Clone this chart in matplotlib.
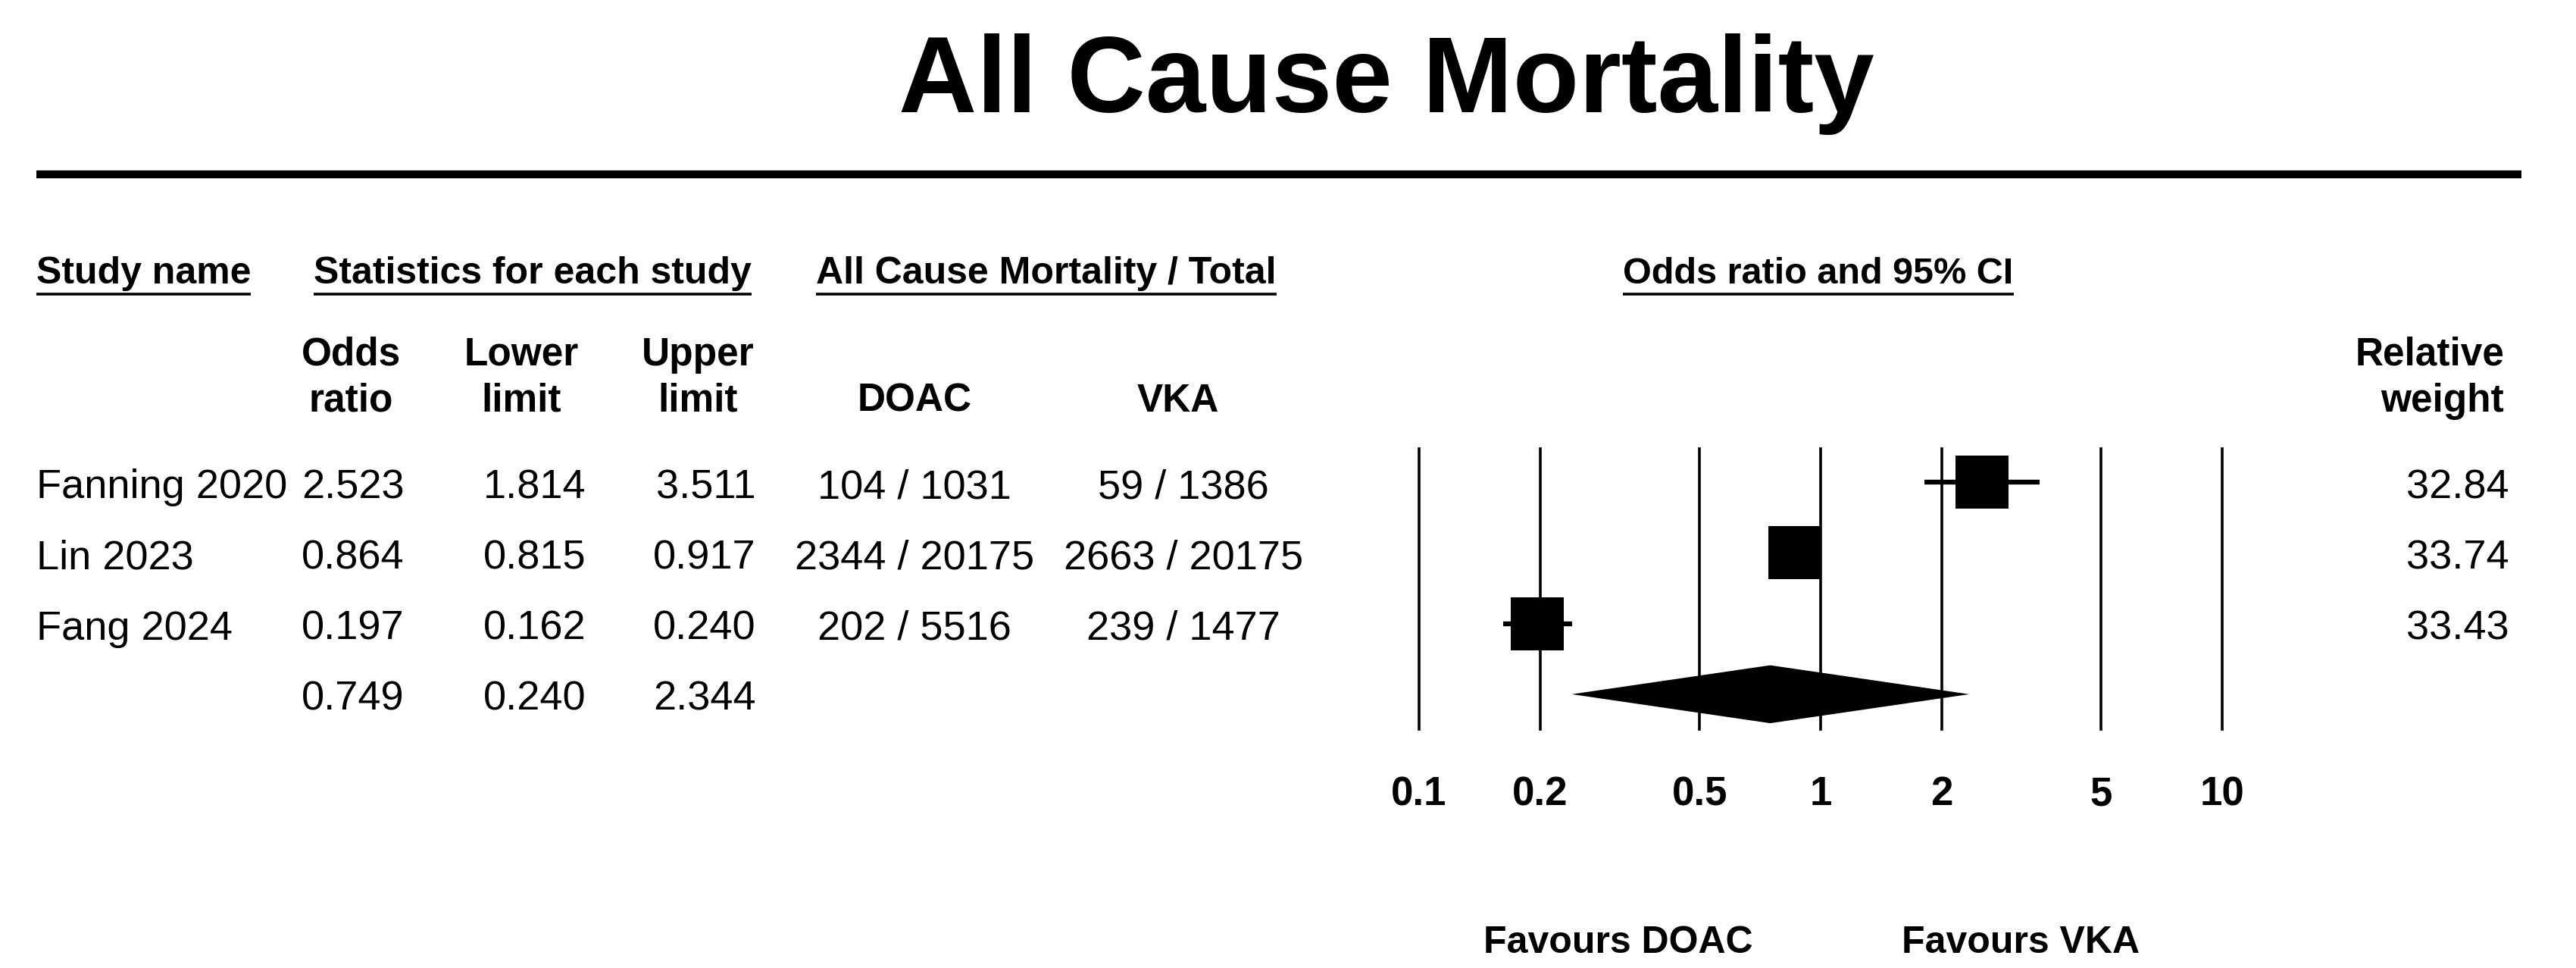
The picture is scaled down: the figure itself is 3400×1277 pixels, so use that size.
"""
Forest plot: All Cause Mortality, DOAC vs VKA (odds ratio, random effects).
Rebuilt with matplotlib as a single static figure -> out.png
"""

import matplotlib
matplotlib.use("Agg")  # headless
import matplotlib.pyplot as plt
import matplotlib.transforms as mtransforms
from matplotlib.lines import Line2D
from matplotlib.ticker import NullLocator

W, H = 3400, 1277
DPI = 100

# ---- data ----
studies = ["Fanning 2020", "Lin 2023", "Fang 2024"]
odds_ratio = [2.523, 0.864, 0.197]
lower_limit = [1.814, 0.815, 0.162]
upper_limit = [3.511, 0.917, 0.240]
doac_events = [104, 2344, 202]
doac_total = [1031, 20175, 5516]
vka_events = [59, 2663, 239]
vka_total = [1386, 20175, 1477]
rel_weight = [32.84, 33.74, 33.43]

pooled_or = 0.749
pooled_lower = 0.240
pooled_upper = 2.344

x_ticks = [0.1, 0.2, 0.5, 1, 2, 5, 10]
x_tick_labels = ["0.1", "0.2", "0.5", "1", "2", "5", "10"]

plt.rcParams["font.family"] = ["Liberation Sans", "DejaVu Sans"]


def fx(x):
    """pixel x (from left) -> figure fraction"""
    return x / W


def fy(y):
    """pixel y (from top) -> figure fraction"""
    return 1 - y / H


def put(fig, x, y, s, **kw):
    return fig.text(fx(x), fy(y), s, va="baseline", **kw)


def underline(fig, txt, y, renderer, lw=2.6):
    bb = txt.get_window_extent(renderer)
    x0, _ = fig.transFigure.inverted().transform((bb.x0, bb.y0))
    x1, _ = fig.transFigure.inverted().transform((bb.x1, bb.y0))
    fig.add_artist(Line2D([x0, x1], [fy(y), fy(y)], color="black", lw=lw,
                          solid_capstyle="butt"))


def main():
    fig = plt.figure(figsize=(W / DPI, H / DPI), dpi=DPI)
    fig.patch.set_facecolor("white")

    # title + rule
    put(fig, 1830, 148, "All Cause Mortality", ha="center",
        fontsize=103, fontweight="bold")
    fig.add_artist(Line2D([fx(48), fx(3328)], [fy(230), fy(230)],
                          color="black", lw=7.5, solid_capstyle="butt"))

    # group headers (underlined)
    hdr = dict(fontsize=36, fontweight="bold")
    groups = [
        put(fig, 48, 374, "Study name", ha="left", **hdr),
        put(fig, 703, 374, "Statistics for each study", ha="center", **hdr),
        put(fig, 1381, 374, "All Cause Mortality / Total", ha="center", **hdr),
        put(fig, 2400, 374, "Odds ratio and 95% CI", ha="center", fontsize=35,
            fontweight="bold"),
    ]

    # column headers
    sub = dict(fontsize=37, fontweight="bold")
    put(fig, 463, 482, "Odds", ha="center", **sub)
    put(fig, 463, 543, "ratio", ha="center", **sub)
    put(fig, 688, 482, "Lower", ha="center", **sub)
    put(fig, 688, 543, "limit", ha="center", **sub)
    put(fig, 921, 482, "Upper", ha="center", **sub)
    put(fig, 921, 543, "limit", ha="center", **sub)
    put(fig, 1207, 543, "DOAC", ha="center", **sub)
    put(fig, 1555, 543, "VKA", ha="center", **sub)
    put(fig, 3305, 482, "Relative", ha="right", **sub)
    put(fig, 3305, 543, "weight", ha="right", **sub)

    # forest panel
    ax = fig.add_axes([fx(1873), fy(962), (2933 - 1873) / W, (962 - 592) / H])
    ax.set_xscale("log")
    ax.set_xlim(0.1, 10)
    ax.set_ylim(3.495, -0.473)
    ax.patch.set_alpha(0)
    for sp in ax.spines.values():
        sp.set_visible(False)
    ax.set_xticks(x_ticks)
    ax.set_xticklabels(x_tick_labels, fontsize=38, fontweight="bold")
    ax.xaxis.set_minor_locator(NullLocator())
    ax.tick_params(axis="x", length=0, pad=44)
    ax.tick_params(axis="y", left=False, labelleft=False)
    ax.set_yticks([])
    ax.grid(axis="x", color="black", lw=2.6)
    ax.set_axisbelow(True)
    for gl in ax.get_xgridlines():
        gl.set_clip_on(False)

    rows = list(range(len(studies)))
    ax.hlines(rows, lower_limit, upper_limit, color="black", lw=4.6, zorder=2)
    wmax = max(rel_weight)
    for r, est, w in zip(rows, odds_ratio, rel_weight):
        ax.plot(est, r, "s", color="black", ms=51 * (w / wmax) ** 0.5,
                mew=0, zorder=3)

    # pooled diamond
    prow = len(studies)
    half = 0.41
    ax.fill([pooled_lower, pooled_or, pooled_upper, pooled_or],
            [prow, prow - half, prow, prow + half],
            color="black", lw=0, zorder=3)

    # table rows, tied to the forest rows
    trans = mtransforms.blended_transform_factory(fig.transFigure, ax.transData) \
        + mtransforms.ScaledTranslation(0, -0.21, fig.dpi_scale_trans)
    cell = dict(fontsize=39, va="baseline", transform=trans)
    for r in rows:
        fig.text(fx(48), r, studies[r], ha="left", **cell)
        fig.text(fx(534), r, f"{odds_ratio[r]:.3f}", ha="right", **cell)
        fig.text(fx(774), r, f"{lower_limit[r]:.3f}", ha="right", **cell)
        fig.text(fx(998), r, f"{upper_limit[r]:.3f}", ha="right", **cell)
        fig.text(fx(1207), r, f"{doac_events[r]} / {doac_total[r]}", ha="center", **cell)
        fig.text(fx(1562), r, f"{vka_events[r]} / {vka_total[r]}", ha="center", **cell)
        fig.text(fx(3312), r, f"{rel_weight[r]:.2f}", ha="right", **cell)
    fig.text(fx(534), prow, f"{pooled_or:.3f}", ha="right", **cell)
    fig.text(fx(774), prow, f"{pooled_lower:.3f}", ha="right", **cell)
    fig.text(fx(998), prow, f"{pooled_upper:.3f}", ha="right", **cell)

    # favours labels
    put(fig, 2136, 1257, "Favours DOAC", ha="center", fontsize=36, fontweight="bold")
    put(fig, 2667, 1257, "Favours VKA", ha="center", fontsize=36, fontweight="bold")

    renderer = fig.canvas.get_renderer()
    for t in groups:
        underline(fig, t, 388, renderer)

    fig.savefig("out.png", dpi=DPI, facecolor="white")
    plt.close(fig)


if __name__ == "__main__":
    main()
